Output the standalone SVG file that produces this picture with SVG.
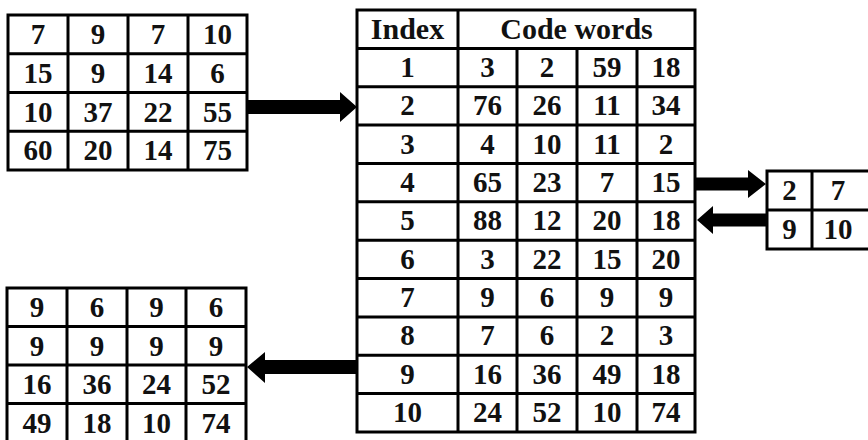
<svg xmlns="http://www.w3.org/2000/svg" width="868" height="440" viewBox="0 0 868 440">
  <style>
    .grid { fill: #ffffff; stroke: #000000; stroke-width: 3; }
    .ln { stroke: #000000; stroke-width: 3; fill: none; }
    .t { font-family: "Liberation Serif", "Times New Roman", serif; font-weight: bold; font-size: 29px; fill: #111111; text-anchor: middle; }
    .h { font-size: 30px; }
    .arrow { fill: #000000; }
  </style>
  <rect x="0" y="0" width="868" height="440" fill="#ffffff"/>

  <!-- Input block (4x4) -->
  <g id="input-block">
    <rect class="grid" x="8" y="15" width="239" height="155"/>
    <path class="ln" d="M68 15V170M128 15V170M188 15V170M8 53.75H247M8 92.5H247M8 131.25H247"/>
    <text class="t" x="38" y="44">7</text><text class="t" x="98" y="44">9</text><text class="t" x="158" y="44">7</text><text class="t" x="217.5" y="44">10</text>
    <text class="t" x="38" y="83">15</text><text class="t" x="98" y="83">9</text><text class="t" x="158" y="83">14</text><text class="t" x="217.5" y="83">6</text>
    <text class="t" x="38" y="122">10</text><text class="t" x="98" y="122">37</text><text class="t" x="158" y="122">22</text><text class="t" x="217.5" y="122">55</text>
    <text class="t" x="38" y="160">60</text><text class="t" x="98" y="160">20</text><text class="t" x="158" y="160">14</text><text class="t" x="217.5" y="160">75</text>
  </g>

  <!-- Codebook table -->
  <g id="codebook">
    <rect class="grid" x="357" y="10" width="338" height="422"/>
    <path class="ln" d="M458 10V432M517 48.4V432M577 48.4V432M637 48.4V432"/>
    <path class="ln" d="M357 48.4H695M357 86.7H695M357 125.1H695M357 163.5H695M357 201.8H695M357 240.2H695M357 278.5H695M357 316.9H695M357 355.3H695M357 393.6H695"/>
    <text class="t h" x="407.5" y="39">Index</text>
    <text class="t h" x="576.5" y="39">Code words</text>
    <text class="t" x="407.5" y="77">1</text><text class="t" x="487.5" y="77">3</text><text class="t" x="547" y="77">2</text><text class="t" x="607" y="77">59</text><text class="t" x="666" y="77">18</text>
    <text class="t" x="407.5" y="115">2</text><text class="t" x="487.5" y="115">76</text><text class="t" x="547" y="115">26</text><text class="t" x="607" y="115">11</text><text class="t" x="666" y="115">34</text>
    <text class="t" x="407.5" y="154">3</text><text class="t" x="487.5" y="154">4</text><text class="t" x="547" y="154">10</text><text class="t" x="607" y="154">11</text><text class="t" x="666" y="154">2</text>
    <text class="t" x="407.5" y="192">4</text><text class="t" x="487.5" y="192">65</text><text class="t" x="547" y="192">23</text><text class="t" x="607" y="192">7</text><text class="t" x="666" y="192">15</text>
    <text class="t" x="407.5" y="230">5</text><text class="t" x="487.5" y="230">88</text><text class="t" x="547" y="230">12</text><text class="t" x="607" y="230">20</text><text class="t" x="666" y="230">18</text>
    <text class="t" x="407.5" y="269">6</text><text class="t" x="487.5" y="269">3</text><text class="t" x="547" y="269">22</text><text class="t" x="607" y="269">15</text><text class="t" x="666" y="269">20</text>
    <text class="t" x="407.5" y="307">7</text><text class="t" x="487.5" y="307">9</text><text class="t" x="547" y="307">6</text><text class="t" x="607" y="307">9</text><text class="t" x="666" y="307">9</text>
    <text class="t" x="407.5" y="345">8</text><text class="t" x="487.5" y="345">7</text><text class="t" x="547" y="345">6</text><text class="t" x="607" y="345">2</text><text class="t" x="666" y="345">3</text>
    <text class="t" x="407.5" y="384">9</text><text class="t" x="487.5" y="384">16</text><text class="t" x="547" y="384">36</text><text class="t" x="607" y="384">49</text><text class="t" x="666" y="384">18</text>
    <text class="t" x="407.5" y="422">10</text><text class="t" x="487.5" y="422">24</text><text class="t" x="547" y="422">52</text><text class="t" x="607" y="422">10</text><text class="t" x="666" y="422">74</text>
  </g>

  <!-- Index block (2x2) -->
  <g id="index-block">
    <rect class="grid" x="767" y="171" width="103" height="78"/>
    <path class="ln" d="M812 171V249M767 210H870"/>
    <text class="t" x="789.5" y="200">2</text><text class="t" x="838" y="200">7</text>
    <text class="t" x="789.5" y="239">9</text><text class="t" x="838" y="239">10</text>
  </g>

  <!-- Reconstructed block (4x4) -->
  <g id="output-block">
    <rect class="grid" x="7" y="288" width="239" height="154"/>
    <path class="ln" d="M67 288V442M127 288V442M186 288V442M7 326.5H246M7 365H246M7 403.5H246"/>
    <text class="t" x="37" y="317">9</text><text class="t" x="97" y="317">6</text><text class="t" x="156.5" y="317">9</text><text class="t" x="216" y="317">6</text>
    <text class="t" x="37" y="356">9</text><text class="t" x="97" y="356">9</text><text class="t" x="156.5" y="356">9</text><text class="t" x="216" y="356">9</text>
    <text class="t" x="37" y="394">16</text><text class="t" x="97" y="394">36</text><text class="t" x="156.5" y="394">24</text><text class="t" x="216" y="394">52</text>
    <text class="t" x="37" y="433">49</text><text class="t" x="97" y="433">18</text><text class="t" x="156.5" y="433">10</text><text class="t" x="216" y="433">74</text>
  </g>

  <!-- Connectors -->
  <g id="connectors">
    <polygon class="arrow" points="247,100 340,100 340,92 357,107 340,122 340,114 247,114"/>
    <polygon class="arrow" points="695,177.5 748,177.5 748,170 766,184 748,198 748,190.5 695,190.5"/>
    <polygon class="arrow" points="767,213.5 713,213.5 713,206 697,220 713,234 713,226.5 767,226.5"/>
    <polygon class="arrow" points="357,360 265,360 265,352 247,367 265,383 265,374 357,374"/>
  </g>
</svg>
